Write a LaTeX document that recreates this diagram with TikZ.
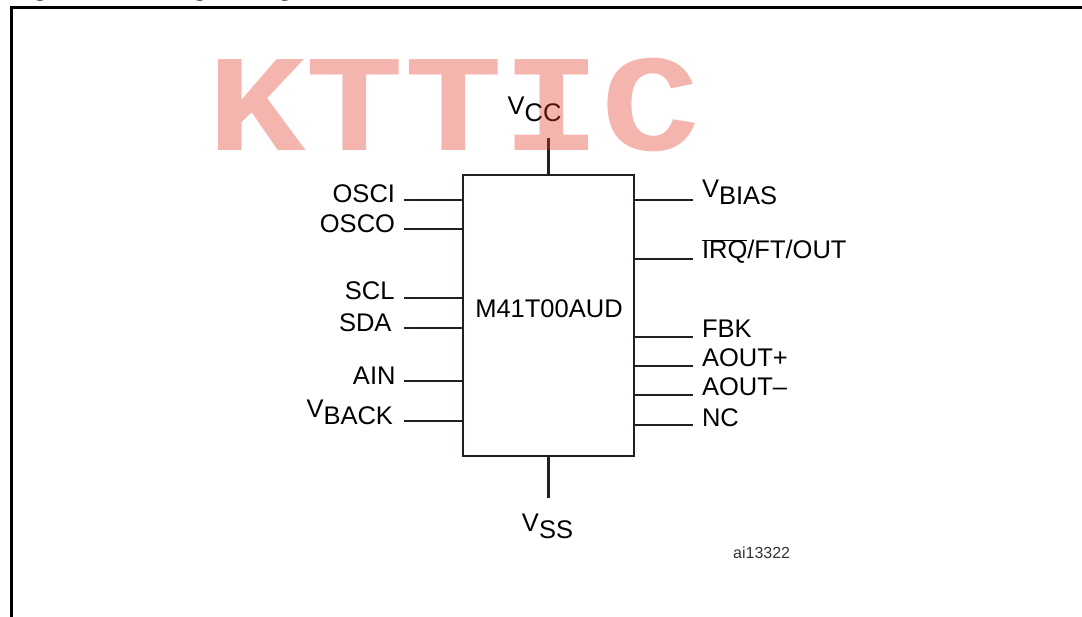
\documentclass[tikz,border=0pt]{standalone}
\usepackage{fontspec}
\setmainfont{Liberation Sans}
\newfontfamily\wmfont{Liberation Mono}
\definecolor{ink}{HTML}{231F20}
\definecolor{wmred}{RGB}{225,55,36}
\definecolor{idgray}{HTML}{333333}
\newcommand{\Vsub}[1]{V\raisebox{-7pt}{#1}}
\tikzset{
  pinline/.style={draw=ink, line width=2.8pt},
  lbl/.style={inner sep=0pt, outer sep=0pt, font=\fontsize{25.5}{30}\selectfont, text=black},
  lblL/.style={lbl, anchor=base east},
  lblR/.style={lbl, anchor=base west},
  chipbox/.style={draw=ink, line width=2.9pt, minimum width=171pt, minimum height=281pt, inner sep=0pt},
  titletext/.style={inner sep=0pt, anchor=base west, font=\fontsize{26.8}{30}\selectfont\bfseries},
  framestyle/.style={draw=black, line width=3pt},
  watermark/.style={inner sep=0pt, anchor=base west, xscale=1.19, transform shape, font=\fontsize{138}{150}\selectfont\wmfont\bfseries, text=wmred, text opacity=0.37},
}
\begin{document}
\begin{tikzpicture}[x=1pt, y=-1pt]
\useasboundingbox (0,0) rectangle (1082,617);
\fill[white] (0,0) rectangle (1082,617);

% cut-off title
\node[titletext] (titleA) at (8,-4.5) {Figure 2.};
\node[titletext] (titleB) at (159,-4.5) {Logic diagram};

% frame
\coordinate (frBL) at (11,625);
\coordinate (frTL) at (11,8);
\coordinate (frTR) at (1090,8);
\draw[framestyle] (frBL) -- (frTL) -- (frTR);

% chip
\node[chipbox] (chip) at (548.5,315.5) {};
\node[lbl, anchor=base] (chipname) at (549,318) {M41T00AUD};

% top / bottom pins
\coordinate (pVCC) at (548.5,138);
\coordinate (pVSS) at (548.5,498);
\draw[pinline] (chip.north) -- (pVCC);
\draw[pinline] (chip.south) -- (pVSS);
\node[lbl, anchor=base] (lVCC) at (534.5,115) {\Vsub{CC}};
\node[lbl, anchor=base] (lVSS) at (547.5,531.5) {\Vsub{SS}};

% left pins
\foreach \n/\y in {OSCI/200, OSCO/229, SCL/298, SDA/328, AIN/381, VBACK/421}{
  \coordinate (p\n) at (404,\y);
  \draw[pinline] (chip.west |- p\n) -- (p\n);
}
\node[lblL] (lOSCI) at (395,203) {OSCI};
\node[lblL] (lOSCO) at (395,233) {OSCO};
\node[lblL] (lSCL) at (394.5,300) {SCL};
\node[lblL] (lSDA) at (391.5,332) {SDA};
\node[lblL] (lAIN) at (395.5,385) {AIN};
\node[lblL] (lVBACK) at (393,417.5) {\Vsub{BACK}};

% right pins
\foreach \n/\y in {VBIAS/200, IRQ/259, FBK/337, AOUTP/366, AOUTM/395, NC/425}{
  \coordinate (p\n) at (693,\y);
  \draw[pinline] (chip.east |- p\n) -- (p\n);
}
\node[lblR] (lVBIAS) at (702,198) {\Vsub{BIAS}};
\node[lblR] (lIRQ) at (702,259) {$\overline{\mbox{IRQ}}$/FT/OUT};
\node[lblR] (lFBK) at (702,338) {FBK};
\node[lblR] (lAOUTP) at (702,367) {AOUT+};
\node[lblR] (lAOUTM) at (702,395.5) {AOUT–};
\node[lblR] (lNC) at (702,427) {NC};

% figure id
\node[inner sep=0pt, anchor=base west, font=\fontsize{16}{18}\selectfont, text=idgray] (figid) at (733,558) {ai13322};

% watermark
\node[watermark] (wm) at (207,151) {KTTIC};
\end{tikzpicture}
\end{document}
